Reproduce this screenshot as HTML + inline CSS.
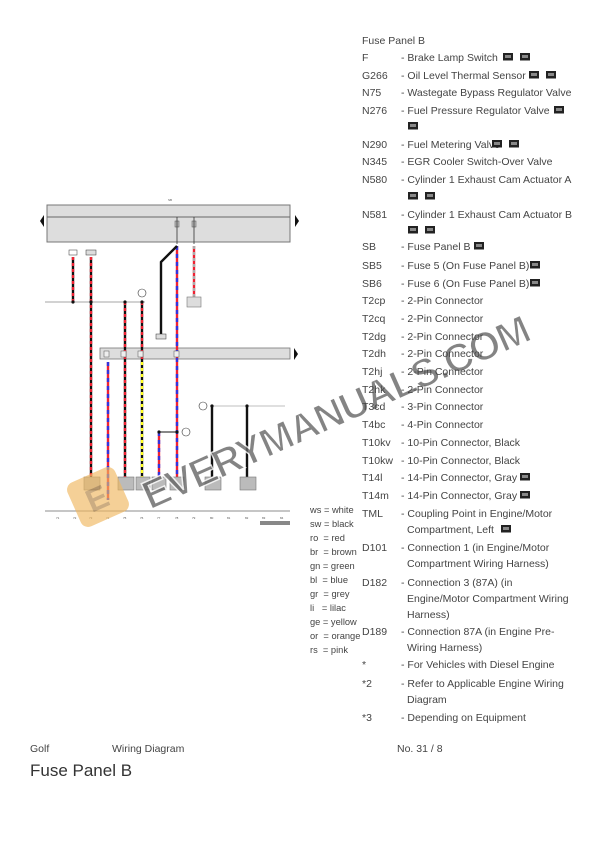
<!DOCTYPE html>
<html><head><meta charset="utf-8"><style>
html,body{margin:0;padding:0;background:#fff;width:612px;height:866px;overflow:hidden}
svg{display:block}
text{font-family:"Liberation Sans",sans-serif}
.t{font-size:10.5px;fill:#444}
.l{font-size:9.3px;fill:#444}
.s{font-size:3px;fill:#555}
</style></head><body>
<svg width="612" height="866" viewBox="0 0 612 866" xmlns="http://www.w3.org/2000/svg">
<defs>
<g id="ic"><rect x="0" y="-8" width="10" height="7.5" fill="#222"/><rect x="2" y="-6" width="6" height="3" fill="#888"/></g>
</defs>
<g>
<text x="168" y="201" class="s">SB</text>
<rect x="47" y="205" width="243" height="37" fill="#ddd" stroke="#777" stroke-width="1"/>
<line x1="47" y1="217" x2="290" y2="217" stroke="#666" stroke-width="1"/>
<polygon points="40,221 44,215 44,227" fill="#111"/>
<polygon points="295,215 299,221 295,227" fill="#111"/>
<rect x="175" y="221" width="4" height="6" fill="#bbb" stroke="#555" stroke-width="0.5"/>
<rect x="192" y="221" width="4" height="6" fill="#bbb" stroke="#555" stroke-width="0.5"/>
<line x1="177" y1="217" x2="177" y2="244" stroke="#333" stroke-width="0.8"/>
<line x1="194" y1="217" x2="194" y2="244" stroke="#333" stroke-width="0.8"/>
<rect x="100" y="348" width="190" height="11" fill="#ddd" stroke="#777" stroke-width="0.8"/>
<polygon points="294,348 298,354 294,360" fill="#111"/>
<line x1="45" y1="302" x2="145" y2="302" stroke="#888" stroke-width="0.8"/>
<line x1="210" y1="406" x2="285" y2="406" stroke="#aaa" stroke-width="0.8"/>
<g stroke-width="2.4">
<line x1="73" y1="257" x2="73" y2="302" stroke="#111"/><line x1="73" y1="257" x2="73" y2="302" stroke="#e23" stroke-dasharray="3 3"/>
<line x1="91" y1="257" x2="91" y2="477" stroke="#111"/><line x1="91" y1="257" x2="91" y2="477" stroke="#e23" stroke-dasharray="3 3"/>
<line x1="125" y1="302" x2="125" y2="477" stroke="#111"/><line x1="125" y1="302" x2="125" y2="477" stroke="#e23" stroke-dasharray="3 3"/>
<line x1="142" y1="302" x2="142" y2="362" stroke="#111"/><line x1="142" y1="302" x2="142" y2="362" stroke="#e23" stroke-dasharray="3 3"/>
<line x1="142" y1="362" x2="142" y2="477" stroke="#111"/><line x1="142" y1="362" x2="142" y2="477" stroke="#ff2" stroke-dasharray="3 3"/>
<line x1="108" y1="362" x2="108" y2="500" stroke="#e23"/><line x1="108" y1="362" x2="108" y2="500" stroke="#33d" stroke-dasharray="4 4"/>
<line x1="177" y1="246" x2="177" y2="477" stroke="#e23"/><line x1="177" y1="246" x2="177" y2="477" stroke="#33d" stroke-dasharray="4 4"/>
<line x1="159" y1="432" x2="159" y2="477" stroke="#e23"/><line x1="159" y1="432" x2="159" y2="477" stroke="#33d" stroke-dasharray="4 4"/>
<line x1="194" y1="246" x2="194" y2="297" stroke="#e23"/><line x1="194" y1="246" x2="194" y2="297" stroke="#aaa" stroke-dasharray="3 3"/>
<polyline points="177,246 161,262 161,334" fill="none" stroke="#111"/>
<line x1="212" y1="406" x2="212" y2="477" stroke="#111"/>
<line x1="247" y1="406" x2="247" y2="477" stroke="#111"/>
</g>
<line x1="159" y1="432" x2="177" y2="432" stroke="#111" stroke-width="1"/>
<g fill="#111"><circle cx="73" cy="302" r="1.6"/><circle cx="91" cy="302" r="1.6"/><circle cx="125" cy="302" r="1.6"/><circle cx="142" cy="302" r="1.6"/><circle cx="159" cy="432" r="1.6"/><circle cx="177" cy="432" r="1.6"/><circle cx="212" cy="406" r="1.6"/><circle cx="247" cy="406" r="1.6"/></g>
<g fill="#fff" stroke="#333" stroke-width="0.6"><circle cx="142" cy="293" r="4"/><circle cx="186" cy="432" r="4"/><circle cx="203" cy="406" r="4"/></g>
<rect x="69" y="250" width="8" height="5" fill="#fff" stroke="#333" stroke-width="0.5"/>
<rect x="86" y="250" width="10" height="5" fill="#ddd" stroke="#333" stroke-width="0.5"/>
<rect x="156" y="334" width="10" height="5" fill="#ddd" stroke="#333" stroke-width="0.5"/>
<rect x="187" y="297" width="14" height="10" fill="#ddd" stroke="#777" stroke-width="0.6"/>
<g fill="#bbb" stroke="#777" stroke-width="0.6">
<rect x="84" y="477" width="16" height="13"/><rect x="118" y="477" width="16" height="13"/><rect x="136" y="477" width="14" height="13"/><rect x="152" y="477" width="14" height="13"/><rect x="170" y="477" width="14" height="13"/><rect x="205" y="477" width="16" height="13"/><rect x="240" y="477" width="16" height="13"/></g>
<g fill="#eee" stroke="#555" stroke-width="0.5"><rect x="121" y="351" width="5" height="6"/><rect x="138" y="351" width="5" height="6"/><rect x="174" y="351" width="5" height="6"/><rect x="104" y="351" width="5" height="6"/></g>
<line x1="45" y1="511" x2="290" y2="511" stroke="#666" stroke-width="0.8"/>
<g class="s" font-size="3.5">
<text x="56" y="519">71</text><text x="73" y="519">72</text><text x="89" y="519">73</text><text x="106" y="519">74</text><text x="123" y="519">75</text><text x="140" y="519">76</text><text x="157" y="519">77</text><text x="175" y="519">78</text><text x="192" y="519">79</text><text x="210" y="519">80</text><text x="227" y="519">81</text><text x="245" y="519">82</text><text x="262" y="519">83</text><text x="280" y="519">84</text></g>
<rect x="260" y="521" width="30" height="4" fill="#888"/>
</g>
<g transform="translate(98,497) rotate(-24)" opacity="0.65">
<rect x="-26" y="-24" width="52" height="48" rx="8" fill="#f0b860"/>
<text x="-12" y="12" font-size="32" font-weight="bold" fill="#b08040">E</text>
</g>
<g transform="translate(150,510) rotate(-24)" opacity="0.8">
<text x="0" y="0" font-size="40" font-weight="bold" fill="#666" stroke="#fff" stroke-width="1.5" style="font-family:'Liberation Sans',sans-serif" textLength="420">EVERYMANUALS.COM</text>
</g>
<text x="362" y="44" class="t">Fuse Panel B</text>
<g class="t">
<text x="362" y="61">F</text><text x="401" y="61">- Brake Lamp Switch</text>
<text x="362" y="79">G266</text><text x="401" y="79">- Oil Level Thermal Sensor</text>
<text x="362" y="96">N75</text><text x="401" y="96">- Wastegate Bypass Regulator Valve</text>
<text x="362" y="114">N276</text><text x="401" y="114">- Fuel Pressure Regulator Valve</text>
<text x="362" y="148">N290</text><text x="401" y="148">- Fuel Metering Valve</text>
<text x="362" y="165">N345</text><text x="401" y="165">- EGR Cooler Switch-Over Valve</text>
<text x="362" y="183">N580</text><text x="401" y="183">- Cylinder 1 Exhaust Cam Actuator A</text>
<text x="362" y="218">N581</text><text x="401" y="218">- Cylinder 1 Exhaust Cam Actuator B</text>
<text x="362" y="250">SB</text><text x="401" y="250">- Fuse Panel B</text>
<text x="362" y="269">SB5</text><text x="401" y="269">- Fuse 5 (On Fuse Panel B)</text>
<text x="362" y="287">SB6</text><text x="401" y="287">- Fuse 6 (On Fuse Panel B)</text>
<text x="362" y="304">T2cp</text><text x="401" y="304">- 2-Pin Connector</text>
<text x="362" y="322">T2cq</text><text x="401" y="322">- 2-Pin Connector</text>
<text x="362" y="340">T2dg</text><text x="401" y="340">- 2-Pin Connector</text>
<text x="362" y="357">T2dh</text><text x="401" y="357">- 2-Pin Connector</text>
<text x="362" y="375">T2hj</text><text x="401" y="375">- 2-Pin Connector</text>
<text x="362" y="393">T2hk</text><text x="401" y="393">- 2-Pin Connector</text>
<text x="362" y="410">T3cd</text><text x="401" y="410">- 3-Pin Connector</text>
<text x="362" y="428">T4bc</text><text x="401" y="428">- 4-Pin Connector</text>
<text x="362" y="446">T10kv</text><text x="401" y="446">- 10-Pin Connector, Black</text>
<text x="362" y="464">T10kw</text><text x="401" y="464">- 10-Pin Connector, Black</text>
<text x="362" y="481">T14l</text><text x="401" y="481">- 14-Pin Connector, Gray</text>
<text x="362" y="499">T14m</text><text x="401" y="499">- 14-Pin Connector, Gray</text>
<text x="362" y="517">TML</text><text x="401" y="517">- Coupling Point in Engine/Motor</text>
<text x="407" y="533">Compartment, Left</text>
<text x="362" y="551">D101</text><text x="401" y="551">- Connection 1 (in Engine/Motor</text>
<text x="407" y="567">Compartment Wiring Harness)</text>
<text x="362" y="586">D182</text><text x="401" y="586">- Connection 3 (87A) (in</text>
<text x="407" y="602">Engine/Motor Compartment Wiring</text>
<text x="407" y="618">Harness)</text>
<text x="362" y="635">D189</text><text x="401" y="635">- Connection 87A (in Engine Pre-</text>
<text x="407" y="651">Wiring Harness)</text>
<text x="362" y="668">*</text><text x="401" y="668">- For Vehicles with Diesel Engine</text>
<text x="362" y="687">*2</text><text x="401" y="687">- Refer to Applicable Engine Wiring</text>
<text x="407" y="703">Diagram</text>
<text x="362" y="721">*3</text><text x="401" y="721">- Depending on Equipment</text>
</g>
<use href="#ic" x="503" y="61"/><use href="#ic" x="520" y="61"/>
<use href="#ic" x="529" y="79"/><use href="#ic" x="546" y="79"/>
<use href="#ic" x="554" y="114"/><use href="#ic" x="408" y="130"/>
<use href="#ic" x="492" y="148"/><use href="#ic" x="509" y="148"/>
<use href="#ic" x="408" y="200"/><use href="#ic" x="425" y="200"/>
<use href="#ic" x="408" y="234"/><use href="#ic" x="425" y="234"/>
<use href="#ic" x="474" y="250"/><use href="#ic" x="530" y="269"/><use href="#ic" x="530" y="287"/>
<use href="#ic" x="520" y="481"/><use href="#ic" x="520" y="499"/><use href="#ic" x="501" y="533"/>
<g class="l">
<text x="310" y="513">ws = white</text><text x="310" y="527">sw = black</text><text x="310" y="541">ro &#160;= red</text><text x="310" y="555">br &#160;= brown</text><text x="310" y="569">gn = green</text><text x="310" y="583">bl &#160;= blue</text><text x="310" y="597">gr &#160;= grey</text><text x="310" y="611">li &#160;&#160;= lilac</text><text x="310" y="625">ge = yellow</text><text x="310" y="639">or &#160;= orange</text><text x="310" y="653">rs &#160;= pink</text>
</g>
<text x="30" y="752" class="t" font-size="10">Golf</text>
<text x="112" y="752" class="t" font-size="10">Wiring Diagram</text>
<text x="397" y="752" class="t" font-size="10">No.  31 / 8</text>
<text x="30" y="776" font-size="17" fill="#333">Fuse Panel B</text>
</svg>
</body></html>
